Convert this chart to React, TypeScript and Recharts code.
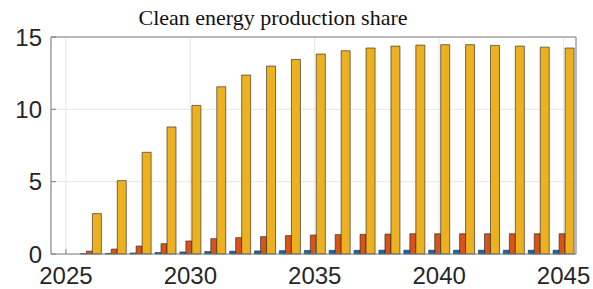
import React from "react";
import { BarChart, Bar, XAxis, YAxis, CartesianGrid } from "recharts";

const YEARS = [
  2026, 2027, 2028, 2029, 2030, 2031, 2032, 2033, 2034, 2035,
  2036, 2037, 2038, 2039, 2040, 2041, 2042, 2043, 2044, 2045,
];
const SERIES_A = [
  0.02, 0.04, 0.07, 0.1, 0.14, 0.17, 0.19, 0.21, 0.23, 0.24,
  0.25, 0.25, 0.26, 0.26, 0.26, 0.26, 0.26, 0.26, 0.26, 0.26,
];
const SERIES_B = [
  0.2, 0.34, 0.55, 0.71, 0.9, 1.06, 1.13, 1.2, 1.27, 1.31,
  1.34, 1.36, 1.38, 1.4, 1.4, 1.4, 1.4, 1.4, 1.4, 1.4,
];
const SERIES_C = [
  2.79, 5.07, 7.03, 8.78, 10.27, 11.56, 12.37, 12.99, 13.45, 13.82,
  14.05, 14.24, 14.37, 14.44, 14.47, 14.47, 14.42, 14.37, 14.3, 14.24,
];
const X_TICKS = [2025, 2030, 2035, 2040, 2045];
const Y_TICKS = [0, 5, 10, 15];

const X_DOMAIN: [number, number] = [2024.4, 2045.5];
const Y_DOMAIN: [number, number] = [0, 15];

const rows = YEARS.map((year, i) => ({
  year,
  a: SERIES_A[i],
  b: SERIES_B[i],
  c: SERIES_C[i],
}));

const AXIS_COLOR = "#7f7f7f";
const TEXT_COLOR = "#262626";
const EDGE = "#1f1f1f";

export default function App() {
  return (
    <div style={{ position: "absolute", left: 0, top: 0, width: 593, height: 289, background: "#fff" }}>
      <div
        style={{
          position: "absolute",
          left: 0,
          top: 5,
          width: 546,
          textAlign: "center",
          fontFamily: "'Liberation Serif', 'Times New Roman', serif",
          fontSize: 22,
          color: "#111",
          whiteSpace: "nowrap",
        }}
      >
        Clean energy production share
      </div>
      <BarChart
        width={593}
        height={289}
        data={rows}
        margin={{ top: 36, right: 16, bottom: 0, left: 0 }}
        barGap={0}
      >
        <CartesianGrid stroke="#e6e6e6" strokeWidth={1} />
        <XAxis
          xAxisId={0}
          dataKey="year"
          type="number"
          domain={X_DOMAIN}
          ticks={X_TICKS}
          allowDataOverflow
          height={35}
          stroke={AXIS_COLOR}
          tickSize={-5}
          tickMargin={18}
          tick={{ fill: TEXT_COLOR, fontSize: 24, fontFamily: "'Liberation Sans', Arial, sans-serif" }}
        />
        <XAxis
          xAxisId="top"
          orientation="top"
          type="number"
          domain={X_DOMAIN}
          ticks={X_TICKS}
          allowDataOverflow
          height={1}
          stroke={AXIS_COLOR}
          tickSize={-5}
          tick={false}
        />
        <YAxis
          yAxisId={0}
          type="number"
          domain={Y_DOMAIN}
          ticks={Y_TICKS}
          width={51}
          stroke={AXIS_COLOR}
          tickSize={-5}
          tickMargin={14}
          tick={{ fill: TEXT_COLOR, fontSize: 24, fontFamily: "'Liberation Sans', Arial, sans-serif" }}
        />
        <YAxis
          yAxisId="right"
          orientation="right"
          type="number"
          domain={Y_DOMAIN}
          ticks={Y_TICKS}
          width={1}
          stroke={AXIS_COLOR}
          tickSize={-5}
          tick={false}
        />
        <Bar dataKey="a" fill="#0072BD" stroke={EDGE} strokeWidth={0.6} barSize={6} isAnimationActive={false} />
        <Bar dataKey="b" fill="#D95319" stroke={EDGE} strokeWidth={0.6} barSize={6} isAnimationActive={false} />
        <Bar dataKey="c" fill="#EDB120" stroke={EDGE} strokeWidth={0.6} barSize={9} isAnimationActive={false} />
      </BarChart>
    </div>
  );
}
